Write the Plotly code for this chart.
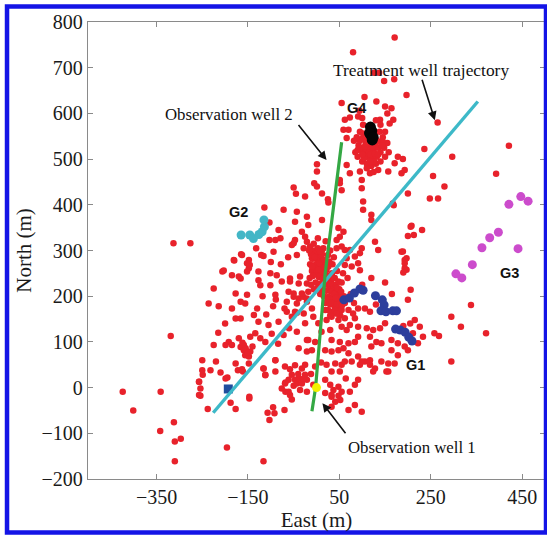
import plotly.graph_objects as go

# ---------------- data (East, North in metres) ----------------
# microseismic events, grouped loosely by area
red_outer = [
    (-424, -9), (-401, -50), (-341, -9), (-342, -95), (-312, -76), (-310, -118),
    (-297, -112), (-310, -161), (-196, -131), (-116, -161), (-257, 13), (-254, -18),
    (-238, -47), (-210, 33), (-199, 20), (-188, -33), (-177, -47), (-161, 35),
    (-147, -24), (-249, 28), (-319, 113), (-313, 316), (-276, 316),
]
red_low_mid = [
    (-112, 28), (-90, 35), (-68, 11), (-68, -9), (-54, 28), (-50, 4), (-54, -26),
    (-70, -49), (-92, -56), (-103, -71), (-25, 50), (-25, 28), (-58, -16), (-61, -9),
    (-76, -2), (-69, 9), (-61, 17), (-47, 17), (-43, 9), (-32, 42), (-47, 49),
    (-69, 46), (-90, 60), (-116, 42), (-147, -20), (-39, 20), (-32, 9), (-36, -5),
    (-21, -9), (-7, 6), (-21, 17), (-3, 46), (-95, -43), (-107, -55), (-28, 20),
    (22, 50), (41, 53), (55, 50), (77, 57), (95, 50), (106, 57), (117, 50), (128, 42),
    (153, 35), (157, 53), (171, 53), (30, 6), (37, -5), (48, 2), (55, -9), (73, -9),
    (84, 6), (91, 17), (33, -20), (41, -31), (52, -27), (70, -49), (84, -38),
    (99, -53), (33, -42), (19, 17), (33, 35), (51, 35), (19, -12), (33, -16), (48, -18),
    (-40, 30), (-12, 30), (10, 55), (64, 20), (-58, 40),
]
red_left = [
    (-206, 254), (-185, 246), (-166, 239), (-152, 254), (-127, 254), (-101, 250),
    (-87, 246), (-127, 235), (-123, 224), (-101, 224), (-76, 232), (-58, 232),
    (-39, 228), (-21, 228), (-61, 210), (-50, 199), (-39, 195), (-29, 199), (-21, 188),
    (-90, 203), (-89, 193), (-65, 188), (-70, 173), (-65, 166), (-54, 155), (-43, 164),
    (-225, 217), (-177, 206), (-152, 203), (-166, 188), (-156, 184), (-185, 173),
    (-236, 184), (-214, 178), (-130, 173), (-137, 159), (-127, 144), (-177, 151),
    (-166, 151), (-105, 137), (-83, 144), (-72, 115), (-134, 119), (-145, 111),
    (-123, 108), (-112, 100), (-192, 100), (-199, 93), (-185, 93), (-170, 108),
    (-166, 89), (-159, 82), (-156, 71), (-148, 68), (-145, 79), (-159, 93), (-225, 93),
    (-250, 60), (-220, 57), (-250, 38), (-232, 38), (-257, 13), (-254, -2), (-195, 22),
    (-177, 53), (-172, 38), (-163, 40), (-148, 53), (-116, 42), (-112, 27), (-90, 60),
    (-21, 104), (-257, -16), (-165, 292), (-180, 278),
    (-72, 389), (-114, 394), (-103, 361), (-83, 345), (-79, 327), (-90, 323),
    (-103, 323), (-21, 319), (-54, 312), (-94, 297), (-116, 288), (-148, 279),
    (-163, 290), (-181, 279), (-203, 256), (-170, 243), (-148, 261), (-152, 272),
    (-58, 239), (-36, 243), (-121, 290), (-146, 268),
    (-155, 86), (-150, 76), (-162, 98), (-140, 90), (-98, 118), (-84, 96), (-60, 130),
    (-110, 160), (-95, 178), (-118, 200), (-200, 140), (-215, 120), (-78, 270),
    (-62, 285), (-132, 305), (-100, 275),
]
red_upper = [
    (1, 489), (1, 473), (-5, 447), (1, 440), (-50, 438), (-45, 424), (-25, 418),
    (12, 425), (25, 412), (26, 405), (51, 454), (51, 447), (55, 432), (66, 487),
    (73, 469), (95, 473), (99, 454), (99, 436), (117, 469), (135, 476), (157, 473),
    (171, 491), (189, 500), (178, 505), (193, 476), (186, 469), (102, 407),
    (102, 389), (120, 378), (120, 367), (59, 341), (48, 349), (44, 323), (51, 330),
    (55, 309), (44, 305), (62, 301), (-43, 385), (-47, 363), (-21, 374), (-18, 356),
    (12, 367), (3, 327), (-32, 341), (-25, 330), (-47, 323), (-50, 316), (-28, 305),
    (-43, 290), (-14, 309), (-10, 283), (12, 301), (200, 425), (208, 354), (200, 332),
    (128, 319), (135, 301), (189, 298), (197, 283), (193, 272), (197, 258),
    (99, 305), (95, 294), (73, 301), (77, 265), (62, 268), (84, 287), (66, 283),
    (91, 272), (95, 257), (167, 403), (169, 399), (206, 352), (213, 334),
    (231, 345), (248, 414), (266, 414), (280, 440), (255, 463), (236, 522),
    (297, 505), (265, 580), (393, 468), (421, 529),
]
red_top = [
    (171, 766), (80, 734), (126, 689), (137, 689), (148, 671), (170, 675), (197, 640),
    (55, 623), (105, 636), (131, 626), (150, 615), (164, 611), (155, 600), (168, 586),
    (160, 578), (139, 586), (91, 593), (94, 606), (73, 591), (62, 586), (59, 564),
    (70, 564), (66, 546),
]
red_g4 = [
    (95, 560), (100, 545), (108, 535), (118, 530), (128, 532), (138, 538), (145, 548),
    (150, 560), (140, 575), (130, 585), (102, 575), (92, 530), (98, 520), (105, 512),
    (112, 505), (122, 500), (132, 505), (140, 515), (148, 525), (155, 535), (85, 515),
    (90, 505), (100, 495), (110, 490), (120, 485), (130, 490), (140, 495), (115, 520),
    (125, 518), (108, 522), (135, 525), (95, 540), (88, 548), (150, 505), (158, 515),
    (110, 480), (125, 472), (82, 540), (100, 590), (115, 515), (104, 502), (118, 510),
    (128, 512), (95, 525), (145, 538), (112, 545), (138, 560), (102, 556),
    (106, 528), (122, 526), (132, 540), (113, 538), (100, 510), (126, 495), (117, 495),
    (90, 520), (143, 530), (135, 510),
]
red_core = [
    (-5, 300), (0, 295), (5, 290), (10, 285), (-8, 282), (2, 278), (12, 275),
    (18, 270), (-3, 268), (8, 265), (15, 262), (22, 258), (-10, 255), (0, 252),
    (10, 250), (20, 248), (28, 245), (5, 242), (14, 238), (24, 236), (32, 232),
    (-2, 230), (8, 228), (18, 225), (28, 222), (38, 220), (12, 215), (22, 212),
    (32, 210), (42, 208), (48, 204), (16, 200), (26, 198), (36, 195), (44, 192),
    (52, 188), (20, 185), (30, 182), (40, 178), (48, 175), (25, 170), (35, 166),
    (45, 162), (55, 170), (50, 215), (40, 240), (45, 255), (35, 270), (25, 290),
    (15, 305), (-15, 240), (-12, 225), (-18, 210), (55, 230), (58, 250), (30, 300),
    (-6, 315), (20, 320), (38, 285), (60, 200), (62, 185), (-2, 262), (6, 272),
    (-12, 292), (3, 305), (42, 225), (34, 250), (50, 196), (8, 205), (-6, 215),
    (-4, 286), (4, 258), (12, 292), (-14, 270), (-8, 244), (26, 265), (16, 280),
    (30, 228), (38, 205), (46, 218), (54, 210), (24, 192), (34, 186), (44, 182),
    (52, 158), (40, 170), (30, 158), (56, 180), (36, 240), (48, 232), (20, 232),
    (2, 218), (-10, 265), (8, 298), (-16, 300), (18, 252), (28, 276), (42, 196),
]
red_right = [
    (-43, 122), (-18, 104), (-3, 100), (-39, 86), (-21, 79), (-10, 82), (19, 82),
    (33, 79), (48, 82), (59, 86), (70, 75), (91, 68), (99, 57), (62, 57),
    (-25, 141), (4, 141), (19, 170), (22, 148), (33, 155), (44, 162), (48, 148),
    (62, 152), (70, 170), (80, 162), (84, 152), (73, 137), (66, 126), (91, 173),
    (91, 133), (55, 133), (30, 126), (11, 122), (33, 104), (51, 100), (70, 97),
    (84, 100), (91, 111), (-50, 206), (-32, 206), (-21, 195), (-43, 184), (-47, 166),
    (-28, 162), (-10, 173), (-7, 155),
    (186, 297), (193, 279), (193, 261), (106, 173), (117, 166), (110, 130),
    (117, 111), (124, 126), (139, 130), (150, 141), (164, 104), (178, 97), (193, 90),
    (215, 148), (226, 133), (211, 119), (233, 111), (258, 119), (268, 113), (222, 97),
    (200, 82), (178, 71), (164, 82), (142, 97), (131, 100), (120, 90), (117, 60),
    (142, 57), (157, 35), (124, 35), (295, 155), (316, 133), (338, 181), (371, 119),
    (295, 57), (200, 192), (206, 214), (190, 252),
    (75, 205), (82, 185), (68, 240), (100, 225), (120, 240), (150, 230), (165, 205),
    (130, 182), (190, 135), (205, 140),
]

# event clusters
g1_east = [60, 72, 83, 95, 102, 129, 144, 148, 141, 152, 167, 175, 173, 183, 194, 202, 209]
g1_north = [192, 196, 207, 216, 213, 201, 192, 181, 168, 166, 168, 168, 128, 126, 121, 110, 102]
g2_east = [-165, -146, -138, -126, -119, -114, -115]
g2_north = [334, 334, 326, 335, 341, 352, 367]
g3_east = [305, 318, 341, 362, 379, 398, 421, 447, 463, 441]
g3_north = [249, 240, 269, 306, 328, 340, 401, 418, 408, 304]
g4_east = [118, 121, 119, 122, 116, 124]
g4_north = [570, 562, 552, 542, 557, 548]

# wells
treatment_east = [-226, 353]
treatment_north = [-55, 626]
obs2_east = [-10, -2, 19, 49, 55]
obs2_north = [-52, 0, 250, 485, 537]
obs1_east = [0]
obs1_north = [0]
square_east = [-193]
square_north = [-3]

# axis ticks
x_ticks = [-350, -150, 50, 250, 450]
y_ticks = [-200, -100, 0, 100, 200, 300, 400, 500, 600, 700, 800]

red_all = red_outer + red_low_mid + red_left + red_upper + red_top + red_g4 + red_core + red_right
red_east = [p[0] for p in red_all]
red_north = [p[1] for p in red_all]

RED = "#E8222B"
fig = go.Figure()
fig.add_trace(go.Scatter(x=red_east, y=red_north, mode="markers",
                         marker=dict(size=6.5, color=RED)))
fig.add_trace(go.Scatter(x=square_east, y=square_north, mode="markers",
                         marker=dict(size=9, color="#1F4E9E", symbol="square")))
fig.add_trace(go.Scatter(x=treatment_east, y=treatment_north, mode="lines",
                         line=dict(color="#3DB9C8", width=3.4)))
fig.add_trace(go.Scatter(x=obs2_east, y=obs2_north, mode="lines",
                         line=dict(color="#34A844", width=3.2)))
fig.add_trace(go.Scatter(x=g1_east, y=g1_north, mode="markers",
                         marker=dict(size=9, color="#2D3E9C")))
fig.add_trace(go.Scatter(x=g2_east, y=g2_north, mode="markers",
                         marker=dict(size=9, color="#43B6C6")))
fig.add_trace(go.Scatter(x=g3_east, y=g3_north, mode="markers",
                         marker=dict(size=9, color="#CC4CCC")))
fig.add_trace(go.Scatter(x=g4_east, y=g4_north, mode="markers",
                         marker=dict(size=11, color="#050505")))
fig.add_trace(go.Scatter(x=obs1_east, y=obs1_north, mode="markers",
                         marker=dict(size=9, color="#F2F200")))

serif = "Liberation Serif, Times New Roman, serif"
sans = "Liberation Sans, Arial, sans-serif"

def label(text, x, y, font, size, bold=False):
    t = f"<b>{text}</b>" if bold else text
    return dict(x=x, y=y, xref="x", yref="y", text=t, showarrow=False,
                font=dict(family=font, size=size, color="#111"))

def arrow(x0, y0, x1, y1):
    return dict(x=x1, y=y1, ax=x0, ay=y0, xref="x", yref="y", axref="x", ayref="y",
                text="", showarrow=True, arrowhead=2, arrowsize=1.1, arrowwidth=1.6,
                arrowcolor="#111")

annotations = [
    label("Treatment well trajectory", 228, 695, serif, 17.4),
    label("Observation well 2", -192, 598, serif, 16.8),
    label("Observation well 1", 209, -130, serif, 16.8),
    label("G1", 217, 50, sans, 14.5, True),
    label("G2", -170, 384, sans, 14.5, True),
    label("G3", 423, 251, sans, 14.5, True),
    label("G4", 87, 611, sans, 14.5, True),
    arrow(230, 677, 259, 585),
    arrow(-42, 578, 22, 498),
    arrow(66, -103, 13, -34),
]

axis_common = dict(showgrid=False, zeroline=False, showline=True, mirror="ticks",
                   linecolor="#8a8a8a", linewidth=1.4, ticks="inside", ticklen=5,
                   tickcolor="#8a8a8a", tickwidth=1.2,
                   tickfont=dict(family=serif, size=20, color="#1a1a1a"))

fig.update_layout(
    width=547, height=535,
    margin=dict(l=88, r=2, t=22, b=56),
    paper_bgcolor="white", plot_bgcolor="white",
    showlegend=False,
    annotations=annotations,
    xaxis=dict(range=[-500, 500], tickvals=x_ticks,
               title=dict(text="East (m)", font=dict(family=serif, size=21, color="#1a1a1a"),
                          standoff=0),
               **axis_common),
    yaxis=dict(range=[-200, 800], tickvals=y_ticks,
               title=dict(text="North (m)", font=dict(family=serif, size=21, color="#1a1a1a"),
                          standoff=4),
               **axis_common),
    shapes=[dict(type="rect", xref="paper", yref="paper",
                 x0=-0.1772, x1=1.0022, y0=-0.1171, y1=1.0339,
                 line=dict(color="#1414E6", width=4.5), layer="above")],
)

fig.write_html("out.html")
